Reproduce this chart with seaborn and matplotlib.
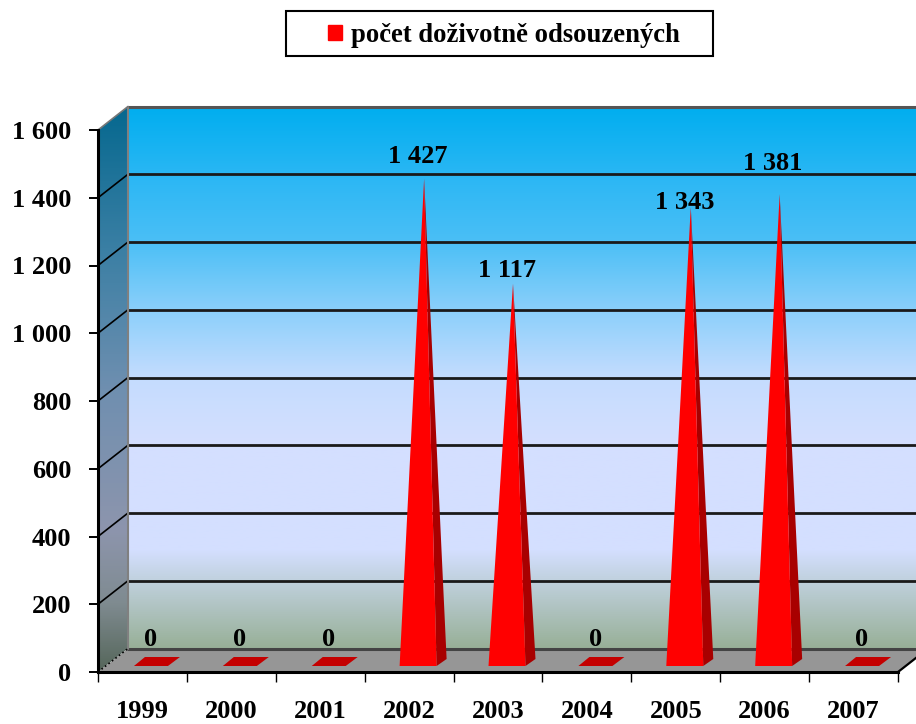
import matplotlib
matplotlib.use("Agg")
import matplotlib.pyplot as plt
import numpy as np
import seaborn as sns
from matplotlib.colors import LinearSegmentedColormap
from matplotlib.patches import Patch, Polygon, Rectangle

sns.set_style("white")
plt.rcParams["font.family"] = ["Liberation Serif", "DejaVu Serif"]
plt.rcParams["font.weight"] = "bold"
plt.rcParams["text.color"] = "black"
plt.rcParams["xtick.labelcolor"] = "black"
plt.rcParams["ytick.labelcolor"] = "black"

# =========================
# DATA
# =========================
years = ["1999", "2000", "2001", "2002", "2003", "2004", "2005", "2006", "2007"]
counts = [0, 0, 0, 1427, 1117, 0, 1343, 1381, 0]
count_labels = ["0", "0", "0", "1 427", "1 117", "0", "1 343", "1 381", "0"]
y_values = [0, 200, 400, 600, 800, 1000, 1200, 1400, 1600]
y_labels = ["0", "200", "400", "600", "800", "1 000", "1 200", "1 400", "1 600"]
legend_label = "počet doživotně odsouzených"

# label height above the apex, in pixels
label_gap = [26, 26, 26, 22, 13, 26, 5, 31, 26]

# =========================
# FIGURE
# =========================
W, H = 916, 724
fig = plt.figure(figsize=(W / 100, H / 100), dpi=100)
ax = fig.add_axes([98 / W, (H - 672) / H, 800 / W, 542 / H])

df_x = np.arange(len(years))
sns.barplot(x=years, y=counts, ax=ax, width=37 / 88.9, color="red")
ax.set_xlim(-0.5, 8.5)
ax.set_ylim(0, 1600)
ax.set_autoscale_on(False)

px_x = 9 / 800
px_y = 1600 / 542
depth_x = 30 * px_x
depth_y = 23.5 * px_y
x0, x1 = -0.5, 8.5

# =========================
# WALLS
# =========================
back_cmap = LinearSegmentedColormap.from_list("back", [
    (0.00, "#00aeef"), (0.13, "#2bb7f4"), (0.25, "#4bbff6"), (0.38, "#8dd0fb"),
    (0.50, "#c4dcfe"), (0.62, "#d4dfff"), (0.82, "#d4dfff"), (0.88, "#bfd0dc"),
    (1.00, "#98b098")])
wall_cmap = LinearSegmentedColormap.from_list("wall", [
    (0.00, "#05688f"), (0.25, "#3a7fa4"), (0.50, "#6f8fb0"), (0.75, "#8d95ad"),
    (0.88, "#7f8b90"), (1.00, "#55665a")])
grad = np.linspace(0, 1, 256).reshape(-1, 1)

ax.imshow(grad, cmap=back_cmap, aspect="auto", zorder=1, clip_on=False,
          extent=[x0 + depth_x, x1 + depth_x, depth_y, 1600 + depth_y])

wall = ax.imshow(grad, cmap=wall_cmap, aspect="auto", zorder=1,
                 extent=[x0, x0 + depth_x, 0, 1600 + depth_y])
wall_poly = Polygon([(x0, 0), (x0 + depth_x, depth_y), (x0 + depth_x, 1600 + depth_y), (x0, 1600)],
                    transform=ax.transData, fc="none", ec="none", clip_on=False)
ax.add_patch(wall_poly)
wall.set_clip_path(wall_poly)
wall.set_clip_box(fig.bbox)

# floor
ax.add_patch(Polygon([(x0, 0), (x0 + depth_x, depth_y), (x1 + depth_x, depth_y), (x1, 0)],
                     fc="#969696", ec="none", zorder=2, clip_on=False))
ax.add_patch(Polygon([(x1, 0), (x1 + depth_x, depth_y), (x1 + 2, depth_y), (x1 + 2, 0)],
                     fc="white", ec="none", zorder=2, clip_on=False))
ax.plot([x1, x1 + depth_x], [0, depth_y], color="black", lw=1.6, zorder=2, clip_on=False)

# grid lines, back wall and side wall
for v in y_values[1:-1]:
    ax.plot([x0 + depth_x, x1 + depth_x], [v + depth_y] * 2, color="#1a1a1a", lw=2, zorder=3, clip_on=False)
    ax.plot([x0, x0 + depth_x], [v, v + depth_y], color="black", lw=1.2, zorder=3, clip_on=False)
ax.plot([x0 + depth_x, x1 + depth_x], [depth_y] * 2, color="#444444", lw=2.2, zorder=3, clip_on=False)
ax.plot([x0 + depth_x, x1 + depth_x], [1600 + depth_y] * 2, color="#555555", lw=2.2, zorder=3, clip_on=False)
ax.plot([x0 + depth_x] * 2, [depth_y, 1600 + depth_y], color="#808080", lw=1.5, zorder=3, clip_on=False)
ax.plot([x0, x0 + depth_x], [1600, 1600 + depth_y], color="#777777", lw=1.2, zorder=3, clip_on=False)
ax.plot([x0, x0 + depth_x], [0, depth_y], color="black", lw=1.2, ls=":", zorder=3, clip_on=False)

# =========================
# PYRAMIDS FROM THE BARS
# =========================
base_y = 6 * px_y
for bar, value, text, gap in zip(list(ax.patches), counts, count_labels, label_gap):
    bar.set_visible(False)
    left = bar.get_x() + 9 * px_x
    right = left + bar.get_width()
    mid = bar.get_x() + bar.get_width() / 2
    if value > 0:
        apex = (mid + 15 * px_x, value + 10 * px_y)
        ax.add_patch(Polygon([(right, base_y), (right + 10 * px_x, base_y + 7 * px_y), apex],
                             fc="#a80000", ec="none", zorder=4, clip_on=False))
        ax.add_patch(Polygon([(left, base_y), (right, base_y), apex],
                             fc="#ff0000", ec="none", zorder=5, clip_on=False))
        label_y = value + (10 + gap) * px_y
    else:
        ax.add_patch(Polygon([(left + 1 * px_x, base_y), (right - 2 * px_x, base_y),
                              (right + 10 * px_x, base_y + 9 * px_y), (left + 12 * px_x, base_y + 9 * px_y)],
                             fc="#c40000", ec="none", zorder=5, clip_on=False))
        label_y = value + (6 + gap) * px_y
    ax.text(mid + 8.5 * px_x, label_y, text, ha="center", va="center",
            fontsize=19, fontweight="bold", color="black", zorder=6, clip_on=False)

# =========================
# AXES
# =========================
sns.despine(ax=ax, top=True, right=True)
for side in ["left", "bottom"]:
    ax.spines[side].set_linewidth(2.2)
    ax.spines[side].set_color("black")
    ax.spines[side].set_zorder(7)

ax.set_yticks(y_values)
ax.set_yticklabels(y_labels)
ax.set_xticks(df_x)
ax.set_xticklabels(years)
ax.set_xticks(np.arange(len(years) + 1) - 0.5, minor=True)
ax.tick_params(axis="y", length=6.5, width=1.4, color="black", pad=12.5, left=True, labelsize=19)
ax.tick_params(axis="x", which="major", length=0, pad=20.5, labelsize=19)
ax.tick_params(axis="x", which="minor", length=7.5, width=1, color="black", bottom=True)
ax.set_xlabel("")
ax.set_ylabel("")

# =========================
# LEGEND
# =========================
fig.add_artist(Rectangle((285.5 / W, (H - 56) / H), 427 / W, 45 / H, transform=fig.transFigure,
                         fc="white", ec="black", lw=1.5))
fig.legend(handles=[Patch(color="#ff0000", label=legend_label)], loc="center",
           bbox_to_anchor=(504 / W, (H - 35.5) / H), fontsize=19.2, frameon=False,
           handlelength=0.5, handleheight=0.5, handletextpad=0.35, borderpad=0, borderaxespad=0)

fig.savefig("out.png", dpi=100)
